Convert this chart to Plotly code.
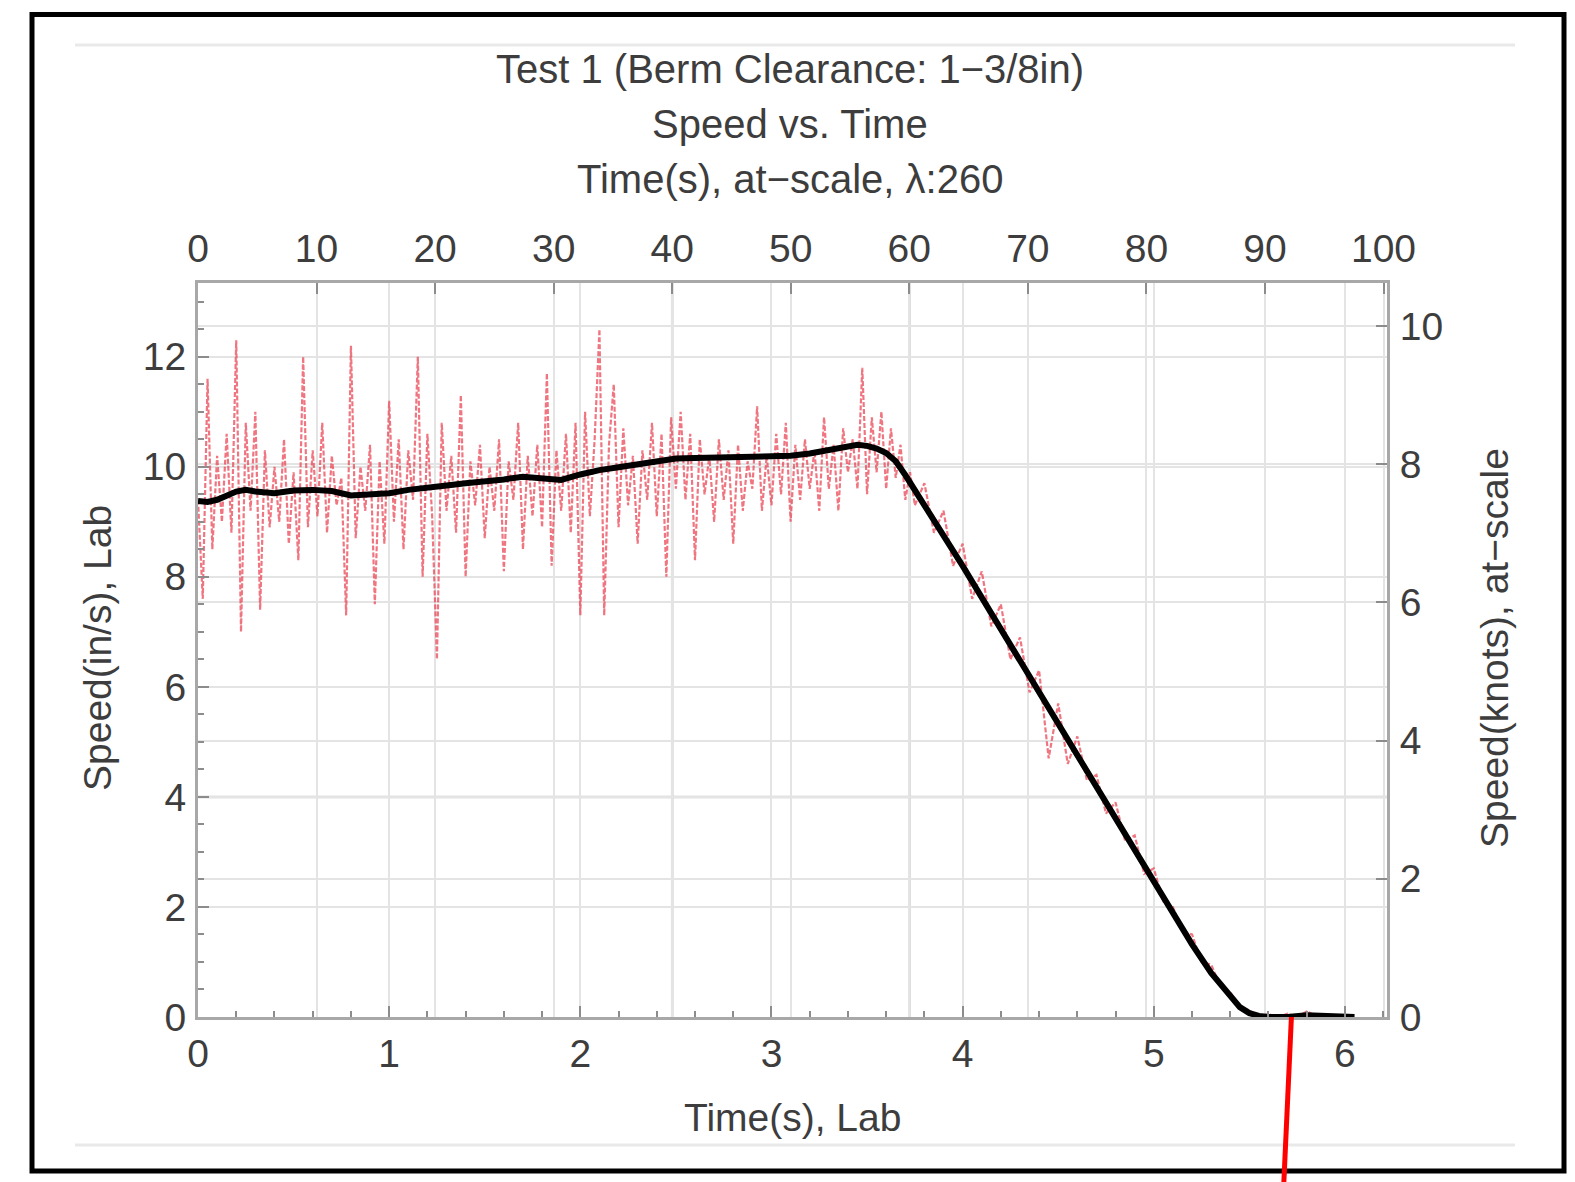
import plotly.graph_objects as go

# ---------------- data ----------------
LAMBDA = 260
TIME_SCALE = LAMBDA ** 0.5                         # lab time -> at-scale time
KNOTS_PER_INS = 0.0254 * 1.943844 * LAMBDA ** 0.5  # lab in/s -> at-scale knots

# smoothed speed (black)
t_smooth = [0, 0.05, 0.1, 0.15, 0.2, 0.25, 0.3, 0.4, 0.5, 0.6,
            0.7, 0.8, 0.9, 1.0, 1.1, 1.2, 1.3, 1.4, 1.5, 1.6,
            1.7, 1.8, 1.9, 2.0, 2.1, 2.2, 2.3, 2.4, 2.5, 2.6,
            2.7, 2.8, 2.9, 3.0, 3.1, 3.2, 3.3, 3.4, 3.45, 3.5,
            3.55, 3.6, 3.65, 3.7, 3.75, 3.8, 3.9, 4.0, 4.2, 4.4,
            4.6, 4.8, 5.0, 5.2, 5.3, 5.4, 5.45, 5.5, 5.55, 5.6,
            5.7, 5.8, 5.9, 6.0, 6.05]
v_smooth = [9.38, 9.36, 9.40, 9.48, 9.55, 9.58, 9.55, 9.52, 9.57, 9.58,
            9.56, 9.48, 9.50, 9.52, 9.58, 9.63, 9.66, 9.70, 9.73, 9.77,
            9.82, 9.78, 9.76, 9.86, 9.94, 9.99, 10.04, 10.10, 10.15, 10.16,
            10.17, 10.18, 10.18, 10.19, 10.20, 10.24, 10.30, 10.38, 10.40, 10.38,
            10.33, 10.25, 10.10, 9.85, 9.58, 9.30, 8.75, 8.20, 7.05, 5.90,
            4.75, 3.60, 2.45, 1.32, 0.80, 0.36, 0.18, 0.07, 0.02, 0.0,
            0.0, 0.03, 0.01, 0.0, 0.0]

# raw measured speed (red dashed)
t_raw = [0.000, 0.025, 0.050, 0.075, 0.100, 0.125, 0.150, 0.175, 0.200, 0.225,
         0.250, 0.275, 0.300, 0.325, 0.350, 0.375, 0.400, 0.425, 0.450, 0.475,
         0.500, 0.525, 0.550, 0.575, 0.600, 0.625, 0.650, 0.675, 0.700, 0.725,
         0.750, 0.775, 0.800, 0.825, 0.850, 0.875, 0.900, 0.925, 0.950, 0.975,
         1.000, 1.025, 1.050, 1.075, 1.100, 1.125, 1.150, 1.175, 1.200, 1.225,
         1.250, 1.275, 1.300, 1.325, 1.350, 1.375, 1.400, 1.425, 1.450, 1.475,
         1.500, 1.525, 1.550, 1.575, 1.600, 1.625, 1.650, 1.675, 1.700, 1.725,
         1.750, 1.775, 1.800, 1.825, 1.850, 1.875, 1.900, 1.925, 1.950, 1.975,
         2.000, 2.025, 2.050, 2.075, 2.100, 2.125, 2.150, 2.175, 2.200, 2.225,
         2.250, 2.275, 2.300, 2.325, 2.350, 2.375, 2.400, 2.425, 2.450, 2.475,
         2.500, 2.525, 2.550, 2.575, 2.600, 2.625, 2.650, 2.675, 2.700, 2.725,
         2.750, 2.775, 2.800, 2.825, 2.850, 2.875, 2.900, 2.925, 2.950, 2.975,
         3.000, 3.025, 3.050, 3.075, 3.100, 3.125, 3.150, 3.175, 3.200, 3.225,
         3.250, 3.275, 3.300, 3.325, 3.350, 3.375, 3.400, 3.425, 3.450, 3.475,
         3.500, 3.525, 3.550, 3.575, 3.600, 3.625, 3.650, 3.675, 3.700, 3.725,
         3.750,
         3.80, 3.85, 3.90, 3.95, 4.00, 4.05, 4.10, 4.15, 4.20, 4.25,
         4.30, 4.35, 4.40, 4.45, 4.50, 4.55, 4.60, 4.65, 4.70, 4.75,
         4.80, 4.85, 4.90, 4.95, 5.00, 5.05, 5.10, 5.15, 5.20, 5.25,
         5.30, 5.35, 5.40, 5.45, 5.50, 5.55, 5.60, 5.65, 5.70, 5.75,
         5.80, 5.85, 5.90, 5.95, 6.00, 6.05]
v_raw = [9.4, 7.6, 11.6, 8.5, 10.2, 9.0, 10.6, 8.8, 12.3, 7.0,
         10.8, 9.2, 11.0, 7.4, 10.3, 8.9, 10.0, 9.0, 10.5, 8.6,
         9.9, 8.3, 12.0, 8.9, 10.3, 9.1, 10.8, 8.8, 10.2, 9.3,
         9.8, 7.3, 12.2, 8.7, 10.0, 9.2, 10.4, 7.5, 10.1, 8.6,
         11.2, 9.0, 10.5, 8.5, 10.3, 9.4, 12.0, 8.0, 10.6, 9.1,
         6.5, 10.8, 9.2, 10.2, 8.8, 11.3, 8.0, 10.1, 9.3, 10.4,
         8.7, 10.0, 9.2, 10.5, 8.1, 10.1, 9.4, 10.8, 8.5, 10.2,
         9.1, 10.4, 8.9, 11.7, 8.2, 10.3, 9.2, 10.6, 8.8, 10.8,
         7.3, 11.0, 9.1, 10.5, 12.5, 7.3, 10.4, 11.5, 8.9, 10.7,
         9.3, 10.2, 8.6, 10.3, 9.4, 10.8, 9.1, 10.6, 8.0, 10.9,
         9.6, 11.0, 9.4, 10.6, 8.3, 10.5, 9.5, 10.2, 9.0, 10.5,
         9.4, 10.3, 8.6, 10.4, 9.2, 10.1, 9.6, 11.1, 9.2, 10.2,
         9.3, 10.6, 9.5, 10.8, 9.0, 10.4, 9.4, 10.5, 9.6, 10.3,
         9.2, 10.9, 9.6, 10.4, 9.2, 10.7, 9.9, 10.5, 9.6, 11.8,
         9.5, 10.9, 9.9, 11.0, 9.6, 10.7, 9.8, 10.4, 9.4, 9.9,
         9.3,
         9.7, 8.8, 9.2, 8.2, 8.6, 7.6, 8.1, 7.1, 7.5, 6.5,
         6.9, 5.9, 6.3, 4.7, 5.7, 4.6, 5.1, 4.3, 4.4, 3.7,
         3.9, 3.2, 3.3, 2.6, 2.7, 2.1, 2.0, 1.55, 1.5, 1.0,
         0.95, 0.55, 0.45, 0.18, 0.12, 0.02, 0.05, 0.0, 0.06, 0.0,
         0.1, 0.02, 0.05, 0.0, 0.03, 0.0]

lab_time_ticks = [0, 1, 2, 3, 4, 5, 6]
scale_time_ticks = [0, 10, 20, 30, 40, 50, 60, 70, 80, 90, 100]
speed_ticks = [0, 2, 4, 6, 8, 10, 12]
knot_ticks = [0, 2, 4, 6, 8, 10]

emph_scale_times = [40, 60]   # darker vertical grid lines (at-scale s)
emph_speeds = [4]             # darker horizontal grid line (in/s)
marker_time_top = 5.72        # red annotation line (lab s)
marker_time_bottom = 5.68

lab_t_max = 6.22
speed_max = 13.34

# ---------------- layout geometry ----------------
W, H = 1575, 1182
L, R, T, B = 198, 1387, 283, 1017


def px(xp):
    return (xp - L) / (R - L)


def py(yp):
    return (B - yp) / (B - T)


FONT = "Liberation Sans, Arial, Helvetica, sans-serif"
TXT = "#3d3d3d"
FS = 39

fig = go.Figure()

# invisible trace on the at-scale axes so they are rendered
fig.add_trace(go.Scatter(
    x=[t * TIME_SCALE for t in t_smooth],
    y=[v * KNOTS_PER_INS for v in v_smooth],
    xaxis="x2", yaxis="y2", mode="lines",
    line=dict(width=0, color="rgba(0,0,0,0)"),
    hoverinfo="skip", showlegend=False))

fig.add_trace(go.Scatter(
    x=t_raw, y=v_raw, mode="lines",
    line=dict(color="rgba(232,60,75,0.7)", width=2.2, dash="5px,2px"),
    showlegend=False))

fig.add_trace(go.Scatter(
    x=t_smooth, y=v_smooth, mode="lines",
    line=dict(color="black", width=6),
    showlegend=False))

axis_common = dict(
    showline=True, linecolor="#a8a8a8", linewidth=3,
    ticks="inside", ticklen=11, tickwidth=2, tickcolor="#8c8c8c",
    gridcolor="#e4e4e4", gridwidth=2, zeroline=False,
    tickfont=dict(family=FONT, size=FS, color=TXT),
)

fig.update_layout(
    width=W, height=H, autosize=False,
    margin=dict(l=L, r=W - R, t=T, b=H - B, pad=0),
    paper_bgcolor="white", plot_bgcolor="white",
    showlegend=False,
    xaxis=dict(axis_common, range=[0, lab_t_max], tickvals=lab_time_ticks,
               side="bottom", ticklabelstandoff=0,
               minor=dict(dtick=0.2, ticks="inside", ticklen=6, tickcolor="#8c8c8c",
                          tickwidth=2, showgrid=False)),
    yaxis=dict(axis_common, range=[0, speed_max], tickvals=speed_ticks,
               side="left", ticklabelstandoff=1,
               minor=dict(dtick=0.5, ticks="inside", ticklen=6, tickcolor="#8c8c8c",
                          tickwidth=2, showgrid=False)),
    xaxis2=dict(axis_common, range=[0, lab_t_max * TIME_SCALE],
                tickvals=scale_time_ticks, side="top", overlaying="x",
                anchor="y", ticklabelstandoff=2),
    yaxis2=dict(axis_common, range=[0, speed_max * KNOTS_PER_INS],
                tickvals=knot_ticks, side="right", overlaying="y",
                anchor="x", ticklabelstandoff=2),
)

shapes = []
for s in emph_scale_times:
    shapes.append(dict(type="line", xref="x2", yref="paper", x0=s, x1=s, y0=0, y1=1,
                       line=dict(color="#c4c4c4", width=2.5), layer="below"))
for v in emph_speeds:
    shapes.append(dict(type="line", xref="paper", yref="y", x0=0, x1=1, y0=v, y1=v,
                       line=dict(color="#c4c4c4", width=2.5), layer="below"))
# outer black frame and light separator lines
shapes.append(dict(type="rect", xref="paper", yref="paper",
                   x0=px(32), x1=px(1564), y0=py(1171), y1=py(14.5),
                   line=dict(color="black", width=5), layer="above"))
for yy in (45, 1145):
    shapes.append(dict(type="line", xref="paper", yref="paper",
                       x0=px(75), x1=px(1515), y0=py(yy), y1=py(yy),
                       line=dict(color="#e9e9e9", width=3), layer="below"))
# red marker line
shapes.append(dict(type="line", xref="x", yref="paper",
                   x0=marker_time_top, y0=0, x1=marker_time_bottom, y1=py(H + 2),
                   line=dict(color="#ff0000", width=5), layer="above"))
fig.update_layout(shapes=shapes)

titles = ["Test 1 (Berm Clearance: 1\u22123/8in)", "Speed vs. Time",
          "Time(s), at\u2212scale, \u03bb:260"]
ann = []
for txt, yc in zip(titles, [68.5, 123.5, 179]):
    ann.append(dict(text=txt, xref="paper", yref="paper", x=px(790), y=py(yc),
                    xanchor="center", yanchor="middle", showarrow=False,
                    font=dict(family=FONT, size=40, color=TXT)))
ann.append(dict(text="Time(s), Lab", xref="paper", yref="paper", x=px(792), y=py(1117),
                xanchor="center", yanchor="middle", showarrow=False,
                font=dict(family=FONT, size=FS, color=TXT)))
ann.append(dict(text="Speed(in/s), Lab", xref="paper", yref="paper", x=px(97), y=py(648),
                xanchor="center", yanchor="middle", showarrow=False, textangle=-90,
                font=dict(family=FONT, size=FS, color=TXT)))
ann.append(dict(text="Speed(knots), at\u2212scale", xref="paper", yref="paper", x=px(1494),
                y=py(648), xanchor="center", yanchor="middle", showarrow=False,
                textangle=-90, font=dict(family=FONT, size=FS, color=TXT)))
fig.update_layout(annotations=ann)

fig.write_html("out.html", config={"displayModeBar": False},
               post_script="document.body.style.margin='0';")
